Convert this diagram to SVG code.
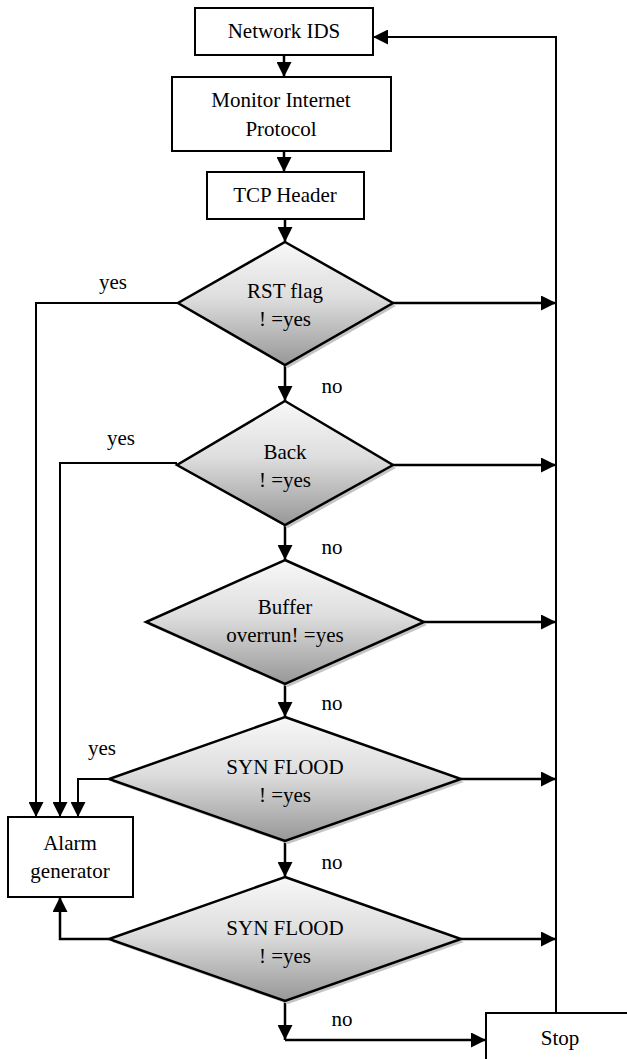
<svg xmlns="http://www.w3.org/2000/svg" width="627" height="1059" viewBox="0 0 627 1059">
  <style>
    .box { fill: #ffffff; stroke: #000; stroke-width: 2; }
    .dia { fill: url(#diaFill); stroke: #000; stroke-width: 2.5; stroke-linejoin: miter; }
    .shadow { fill: #c4c4c4; }
    .lbl { font-family: 'Liberation Serif', 'Times New Roman', Times, 'DejaVu Serif', serif; font-size: 21px; fill: #000; text-anchor: middle; }
    .edge { fill: none; stroke: #000; stroke-width: 2.5; }
    .edge.thin { stroke-width: 2; }
    .arrow { marker-end: url(#head); }
  </style>
  <defs>
    <linearGradient id="diaFill" x1="0" y1="0" x2="0" y2="1">
      <stop offset="0" stop-color="#f8f8f8"/>
      <stop offset="0.45" stop-color="#dedede"/>
      <stop offset="1" stop-color="#979797"/>
    </linearGradient>
    <marker id="head" markerUnits="userSpaceOnUse" viewBox="0 0 15 15" markerWidth="15" markerHeight="15" refX="15" refY="7.5" orient="auto">
      <path d="M0,0 L15,7.5 L0,15 z" fill="#000"/>
    </marker>
  </defs>
  <rect width="627" height="1059" fill="#fff"/>

  <!-- connectors -->
  <g id="connectors">
    <path class="edge arrow" d="M284,55 V77"/>
    <path class="edge arrow" d="M284,151 V172"/>
    <path class="edge arrow" d="M285,219 V242"/>
    <path class="edge arrow" d="M285,365 V401"/>
    <path class="edge arrow" d="M285,525 V560"/>
    <path class="edge arrow" d="M285,684 V717"/>
    <path class="edge arrow" d="M285,841 V877"/>
    <path class="edge arrow" d="M285,1001 V1040"/>
    <path class="edge arrow" d="M285,1040 H486"/>

    <!-- "no" exits to the right-hand return line -->
    <path class="edge arrow" d="M393,303 H556"/>
    <path class="edge arrow" d="M393,465 H556"/>
    <path class="edge arrow" d="M424,622 H556"/>
    <path class="edge arrow" d="M461,779 H556"/>
    <path class="edge arrow" d="M461,939 H556"/>

    <!-- return line from Stop back to Network IDS -->
    <path class="edge thin arrow" d="M556,1013 V37 H373"/>

    <!-- "yes" branches into the alarm generator -->
    <path class="edge thin arrow" d="M178,303 H36 V817"/>
    <path class="edge thin arrow" d="M177,463 H60 V817"/>
    <path class="edge thin arrow" d="M109,779 H78 V817"/>
    <path class="edge arrow" d="M109,939 H60 V897"/>

    <text class="lbl" x="113" y="289">yes</text>
    <text class="lbl" x="121" y="445">yes</text>
    <text class="lbl" x="102" y="755">yes</text>
    <text class="lbl" x="332" y="393">no</text>
    <text class="lbl" x="332" y="554">no</text>
    <text class="lbl" x="332" y="710">no</text>
    <text class="lbl" x="332" y="869">no</text>
    <text class="lbl" x="342" y="1026">no</text>
  </g>

  <g id="network-ids">
    <rect class="box" x="195" y="8" width="178" height="47"/>
    <text class="lbl" x="284" y="38">Network IDS</text>
  </g>

  <g id="monitor-ip">
    <rect class="box" x="172" y="77" width="219" height="74"/>
    <text class="lbl" x="281" y="107">Monitor Internet</text>
    <text class="lbl" x="281" y="136">Protocol</text>
  </g>

  <g id="tcp-header">
    <rect class="box" x="207" y="172" width="157" height="47"/>
    <text class="lbl" x="285" y="202">TCP Header</text>
  </g>

  <g id="rst-flag">
    <polygon class="shadow" points="288,245 396,306 288,368 181,306"/>
    <polygon class="dia" points="285,242 393,303 285,365 178,303"/>
    <text class="lbl" x="285" y="298">RST flag</text>
    <text class="lbl" x="285" y="326">! =yes</text>
  </g>

  <g id="back">
    <polygon class="shadow" points="288,404 396,468 288,528 180,468"/>
    <polygon class="dia" points="285,401 393,465 285,525 177,465"/>
    <text class="lbl" x="285" y="459">Back</text>
    <text class="lbl" x="285" y="487">! =yes</text>
  </g>

  <g id="buffer-overrun">
    <polygon class="shadow" points="288,563 427,625 288,687 149,625"/>
    <polygon class="dia" points="285,560 424,622 285,684 146,622"/>
    <text class="lbl" x="285" y="614">Buffer</text>
    <text class="lbl" x="285" y="642">overrun! =yes</text>
  </g>

  <g id="syn-flood-1">
    <polygon class="shadow" points="288,720 464,782 288,844 112,782"/>
    <polygon class="dia" points="285,717 461,779 285,841 109,779"/>
    <text class="lbl" x="285" y="774">SYN FLOOD</text>
    <text class="lbl" x="285" y="802">! =yes</text>
  </g>

  <g id="syn-flood-2">
    <polygon class="shadow" points="288,880 464,942 288,1004 112,942"/>
    <polygon class="dia" points="285,877 461,939 285,1001 109,939"/>
    <text class="lbl" x="285" y="935">SYN FLOOD</text>
    <text class="lbl" x="285" y="963">! =yes</text>
  </g>

  <g id="alarm-generator">
    <rect class="box" x="8" y="817" width="125" height="80"/>
    <text class="lbl" x="70" y="850">Alarm</text>
    <text class="lbl" x="70" y="878">generator</text>
  </g>

  <g id="stop">
    <rect class="box" x="486" y="1013" width="160" height="60"/>
    <text class="lbl" x="560" y="1045">Stop</text>
  </g>
</svg>
